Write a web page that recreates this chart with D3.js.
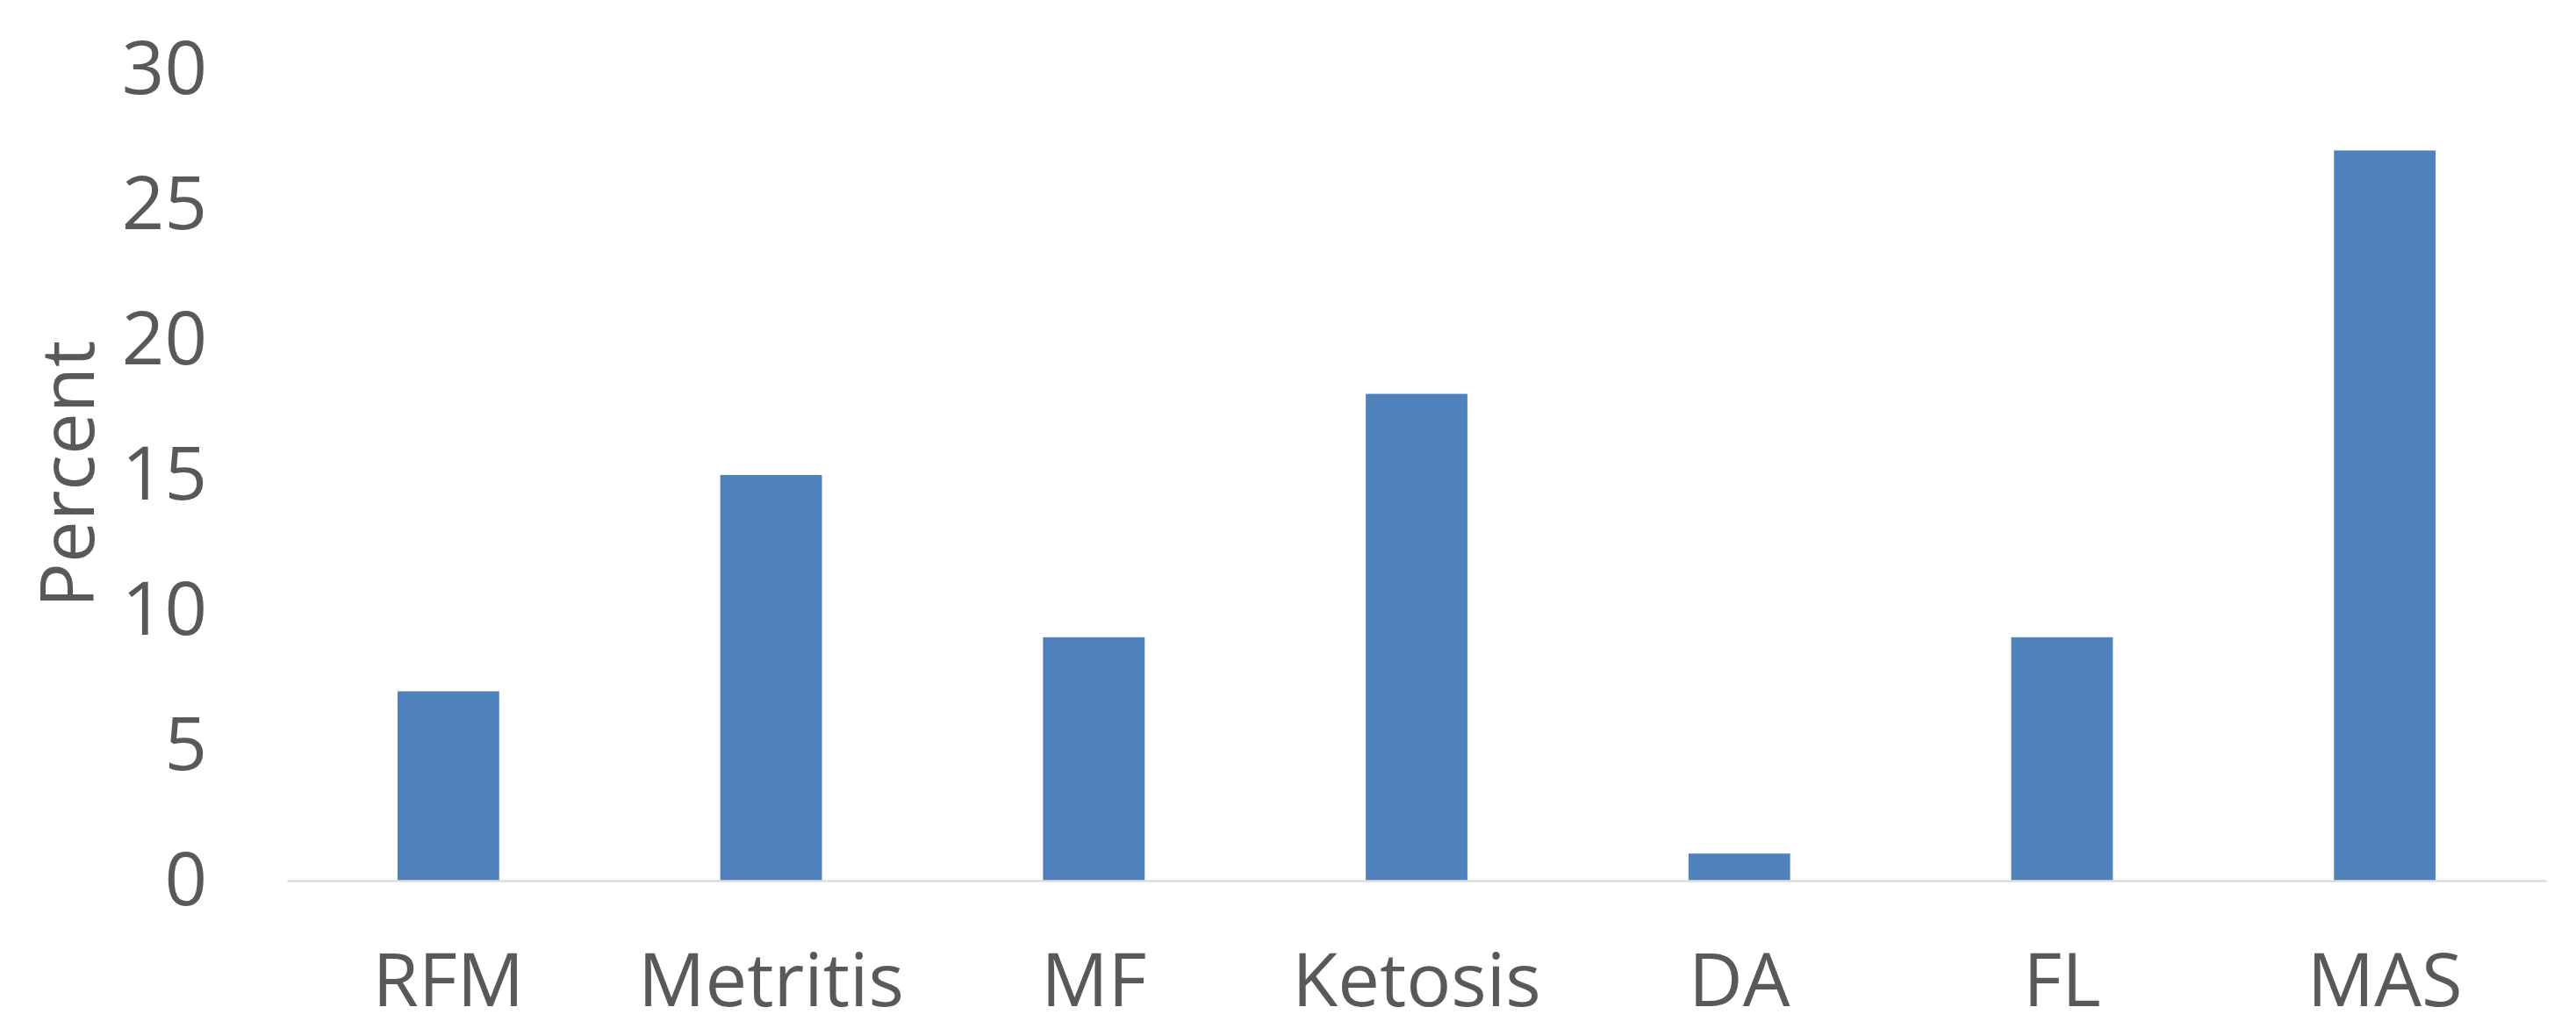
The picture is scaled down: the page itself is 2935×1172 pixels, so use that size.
<!DOCTYPE html>
<html>
<head>
<meta charset="utf-8">
<script src="https://cdn.jsdelivr.net/npm/d3@7"></script>
<style>
  html, body { margin: 0; padding: 0; background: #ffffff; }
  svg { display: block; }
  text { font-family: "Open Sans", "Noto Sans", sans-serif; fill: #595959; }
</style>
</head>
<body>
<svg id="chart"></svg>
<script>
// Incidence of each disorder, percent
const categories = ["RFM", "Metritis", "MF", "Ketosis", "DA", "FL", "MAS"];
const percentValues = [7, 15, 9, 18, 1, 9, 27];
const yTicks = [0, 5, 10, 15, 20, 25, 30];
const yAxisTitle = "Percent";

const width = 2935, height = 1172;
const margin = { top: 79, right: 34, bottom: 169, left: 327 };
const innerW = width - margin.left - margin.right;
const innerH = height - margin.top - margin.bottom;
const fontSize = "85px";

const svg = d3.select("#chart").attr("width", width).attr("height", height);
const g = svg.append("g").attr("transform", `translate(${margin.left},${margin.top})`);

const x = d3.scaleBand()
  .domain(categories)
  .range([0, innerW])
  .paddingInner(0.685)
  .paddingOuter(0.3425);

const y = d3.scaleLinear().domain([0, 30]).range([innerH, 0]);

// y axis labels (no line, no ticks)
const yAxis = g.append("g")
  .call(d3.axisLeft(y).tickValues(yTicks).tickSize(0).tickPadding(91));
yAxis.select(".domain").remove();
yAxis.selectAll("text")
  .style("font-size", fontSize)
  .style("fill", "#595959")
  .style("font-family", "'Open Sans', sans-serif");

// bars
g.selectAll("rect.bar")
  .data(categories.map((c, i) => ({ c, v: percentValues[i] })))
  .join("rect")
  .attr("class", "bar")
  .attr("x", d => x(d.c))
  .attr("width", x.bandwidth())
  .attr("y", d => y(d.v))
  .attr("height", d => y(0) - y(d.v))
  .attr("fill", "#4F81BD");

// category axis
const xAxis = g.append("g")
  .attr("transform", `translate(0,${innerH})`)
  .call(d3.axisBottom(x).tickSize(0));
xAxis.select(".domain")
  .attr("stroke", "#DCDCDC")
  .attr("stroke-width", 2.5);
xAxis.selectAll("text")
  .attr("y", 143)
  .attr("dy", 0)
  .style("font-size", fontSize)
  .style("fill", "#595959")
  .style("font-family", "'Open Sans', sans-serif");

// axis title
svg.append("text")
  .attr("transform", "translate(107,540) rotate(-90)")
  .attr("text-anchor", "middle")
  .style("font-size", fontSize)
  .text(yAxisTitle);
</script>
</body>
</html>
